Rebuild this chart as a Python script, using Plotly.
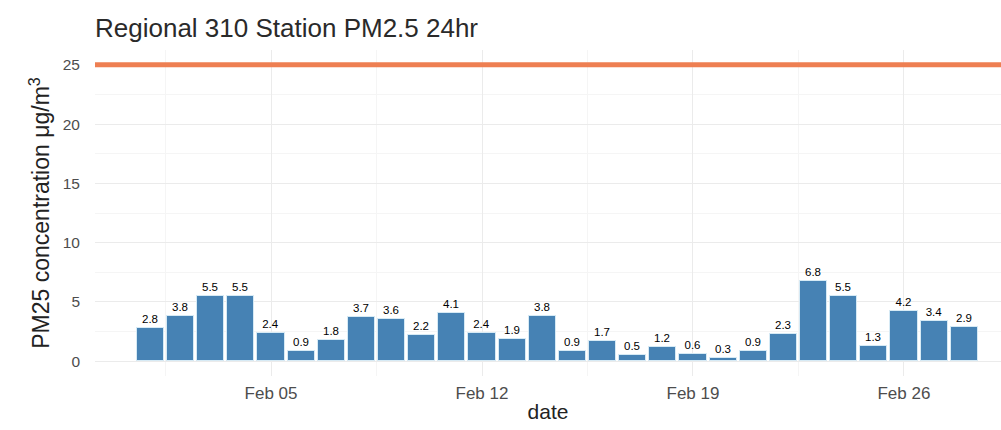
import plotly.graph_objects as go
import pandas as pd

dates = pd.date_range("2023-02-01", "2023-02-28", freq="D")
pm25 = [2.8, 3.8, 5.5, 5.5, 2.4, 0.9, 1.8, 3.7, 3.6, 2.2, 4.1, 2.4, 1.9, 3.8,
        0.9, 1.7, 0.5, 1.2, 0.6, 0.3, 0.9, 2.3, 6.8, 5.5, 1.3, 4.2, 3.4, 2.9]
standard = 25
tick_dates = ["2023-02-05", "2023-02-12", "2023-02-19", "2023-02-26"]
tick_labels = ["Feb 05", "Feb 12", "Feb 19", "Feb 26"]

FONT = "Liberation Sans, Arial, sans-serif"

fig = go.Figure()
fig.add_trace(go.Bar(
    x=dates, y=pm25,
    width=0.9 * 86400000,
    marker=dict(color="#4682B4", line=dict(color="#d6eaf5", width=1)),
    text=[f"{v}" for v in pm25],
    textposition="outside",
    textfont=dict(size=11.5, color="#000000", family=FONT),
    constraintext="none",
    cliponaxis=False,
    hoverinfo="x+y",
))

fig.add_hline(y=standard, line=dict(color="#EE7F52", width=5))

fig.update_layout(
    width=1001, height=430,
    margin=dict(l=95, r=0, t=50, b=53.5, autoexpand=False),
    plot_bgcolor="white", paper_bgcolor="white",
    showlegend=False,
    bargap=0,
    font=dict(family=FONT, color="#4d4d4d"),
    title=dict(text="Regional 310 Station PM2.5 24hr",
               x=95 / 1001, xanchor="left", xref="container",
               y=1 - 28 / 430, yanchor="middle", yref="container",
               font=dict(size=26, color="#2a2a2a", family=FONT)),
    xaxis=dict(
        type="date",
        automargin=False,
        range=["2023-01-30 03:50", "2023-03-01 05:17"],
        tickvals=tick_dates, ticktext=tick_labels,
        tickfont=dict(size=17, color="#4d4d4d"),
        showgrid=True, gridcolor="#EBEBEB", gridwidth=1,
        minor=dict(tick0="2023-02-01 12:00", dtick=7 * 86400000,
                   showgrid=True, gridcolor="#F5F5F5", gridwidth=1),
        zeroline=False, showline=False, ticks="",
        ticklabelstandoff=5,
        title=dict(text="date", font=dict(size=21, color="#222222"), standoff=2),
    ),
    yaxis=dict(
        automargin=False,
        range=[-1.25, 26.25],
        tickvals=[0, 5, 10, 15, 20, 25],
        tickfont=dict(size=15.5, color="#4d4d4d"),
        showgrid=True, gridcolor="#EBEBEB", gridwidth=1,
        minor=dict(tick0=2.5, dtick=5, showgrid=True, gridcolor="#F5F5F5", gridwidth=1),
        zeroline=False, showline=False, ticks="",
        ticklabelstandoff=14,
        title=dict(text="PM25 concentration μg/m<sup>3</sup>",
                   font=dict(size=23, color="#222222"), standoff=6),
    ),
)

fig.write_html("out.html",
               config={"displayModeBar": False},
               post_script="document.body.style.margin='0';document.body.style.overflow='hidden';")
